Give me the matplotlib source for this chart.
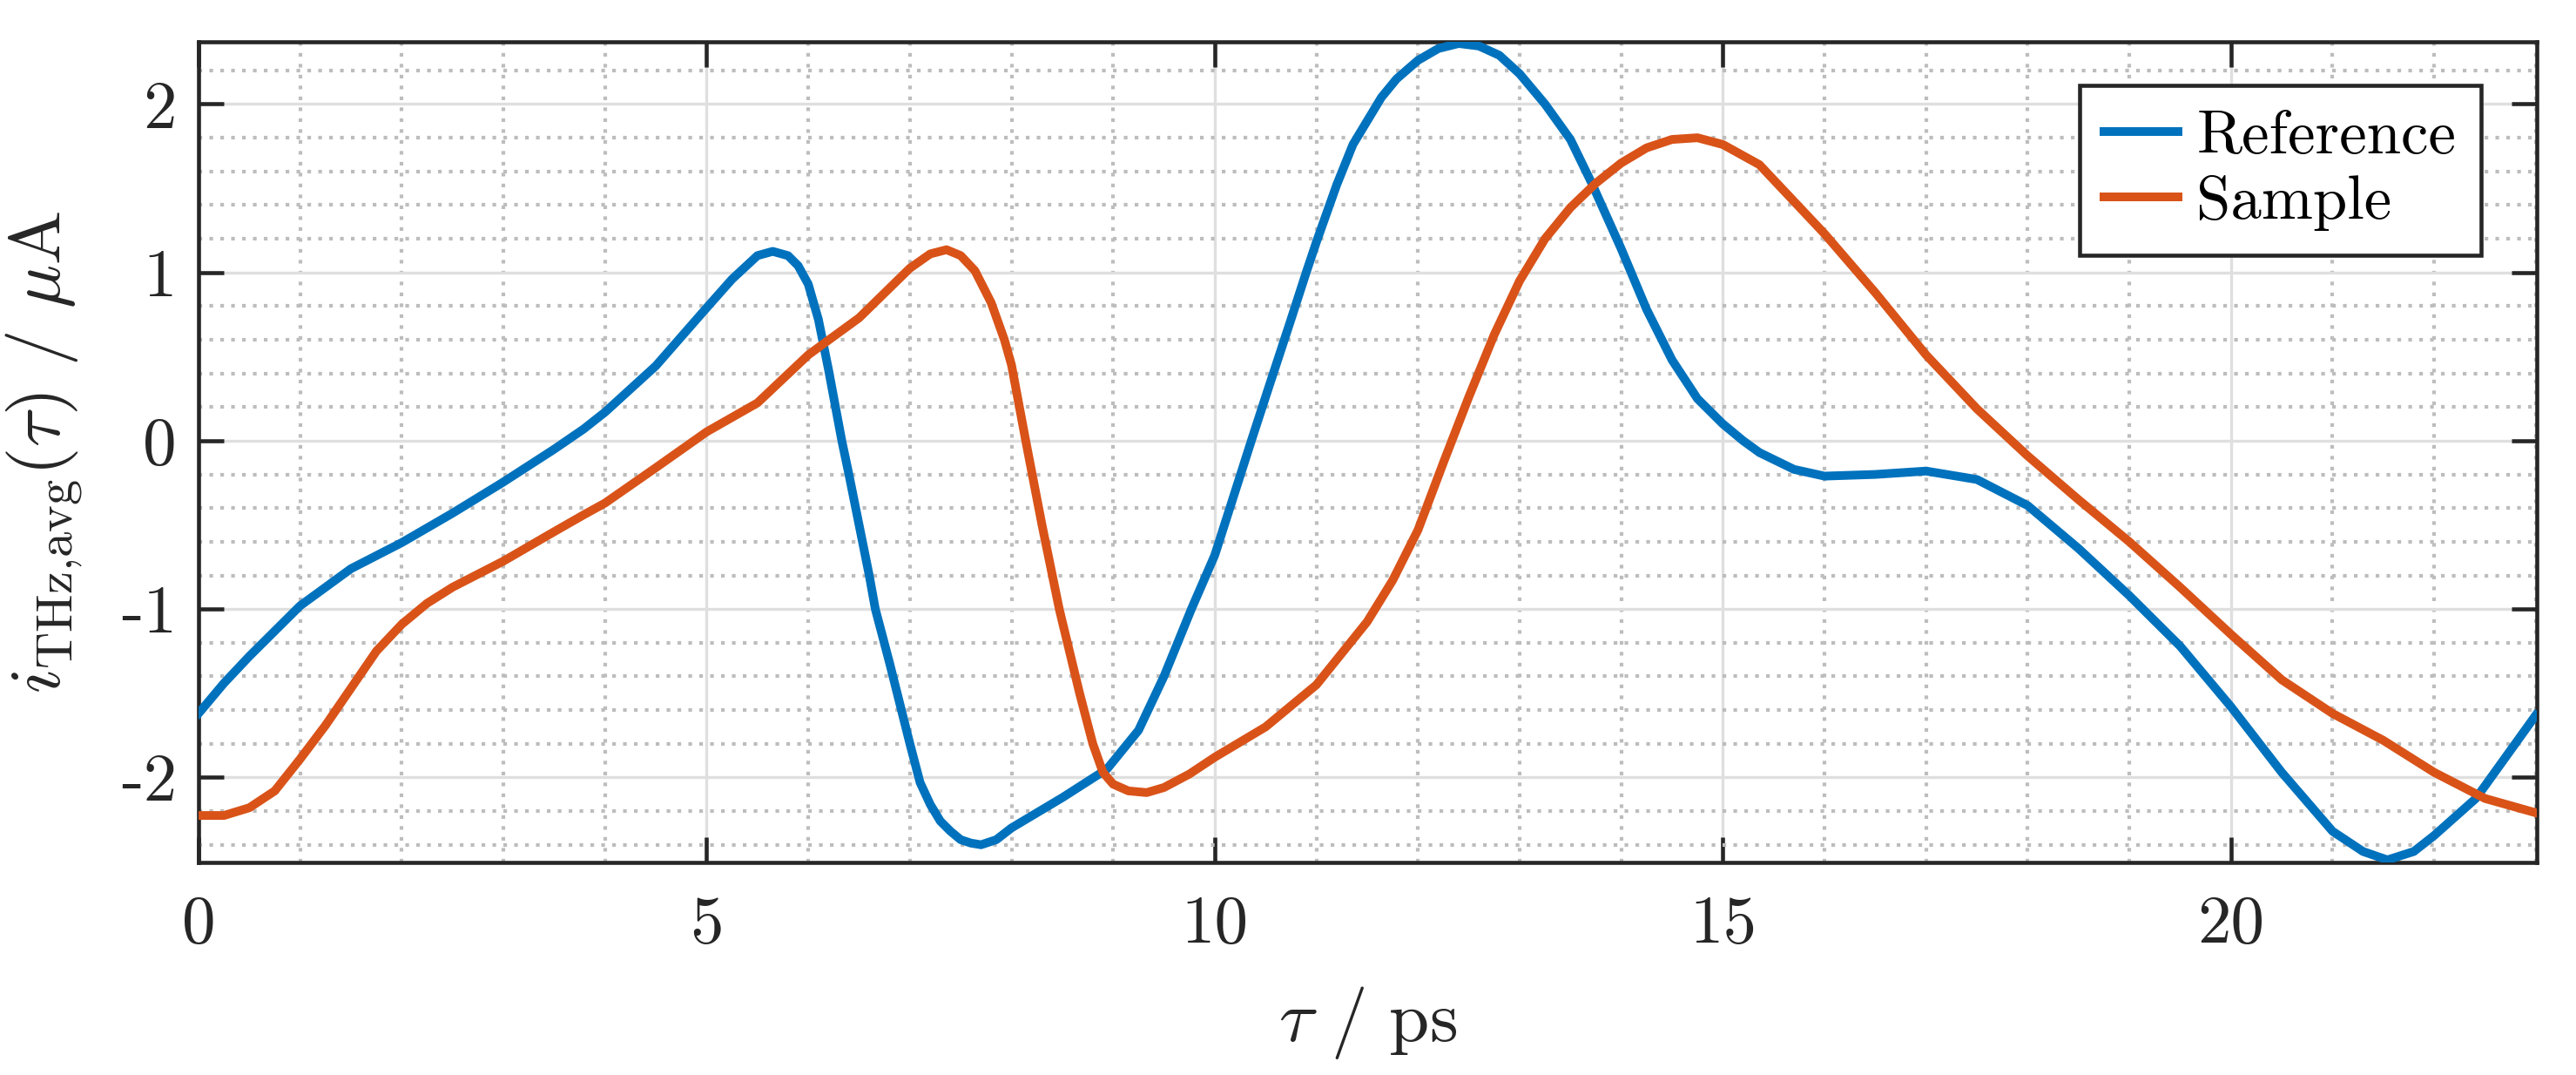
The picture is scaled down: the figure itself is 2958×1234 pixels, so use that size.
import matplotlib
matplotlib.use("Agg")
import matplotlib.pyplot as plt
from matplotlib.ticker import MultipleLocator, FixedLocator, FixedFormatter

plt.rcParams['font.family'] = ['cmr10', 'DejaVu Serif']
plt.rcParams['mathtext.fontset'] = 'cm'
plt.rcParams['axes.unicode_minus'] = False
plt.rcParams['axes.formatter.use_mathtext'] = True

# ---------------- data ----------------
t_ref = [0, 0.25, 0.5, 1, 1.5, 2, 2.5, 3, 3.5, 3.79, 4, 4.5, 5, 5.25, 5.5, 5.65,
         5.8, 5.9, 6.0, 6.1, 6.16, 6.2, 6.33, 6.4, 6.5, 6.6, 6.66, 6.8, 6.9, 7.0,
         7.1, 7.2, 7.3, 7.4, 7.5, 7.6, 7.7, 7.85, 8.0, 8.5, 8.94, 9.25, 9.5, 9.77,
         10.0, 10.36, 10.5, 10.75, 10.9, 11.0, 11.2, 11.36, 11.5, 11.64, 11.79,
         12.0, 12.2, 12.4, 12.6, 12.8, 13.0, 13.25, 13.5, 13.71, 14.0, 14.25,
         14.5, 14.75, 15.0, 15.2, 15.36, 15.7, 16.0, 16.5, 17.0, 17.5, 18.0, 18.5,
         19.0, 19.5, 20.0, 20.5, 21.0, 21.3, 21.54, 21.8, 22.0, 22.41, 22.5, 23.0]
i_ref = [-1.62, -1.44, -1.28, -0.98, -0.76, -0.605, -0.43, -0.245, -0.05, 0.07,
         0.17, 0.445, 0.79, 0.96, 1.10, 1.125, 1.10, 1.04, 0.93, 0.72, 0.54, 0.42,
         0.0, -0.2, -0.5, -0.8, -1.0, -1.32, -1.56, -1.80, -2.03, -2.16, -2.26,
         -2.32, -2.37, -2.39, -2.40, -2.37, -2.30, -2.12, -1.95, -1.72, -1.40, -1.0,
         -0.68, 0.0, 0.26, 0.72, 1.0, 1.18, 1.52, 1.76, 1.90, 2.04, 2.15, 2.26,
         2.33, 2.36, 2.345, 2.29, 2.18, 2.0, 1.79, 1.53, 1.14, 0.78, 0.48, 0.25,
         0.10, 0.0, -0.07, -0.17, -0.21, -0.20, -0.18, -0.23, -0.385, -0.64, -0.92,
         -1.22, -1.58, -1.97, -2.32, -2.44, -2.49, -2.44, -2.345, -2.125, -2.05,
         -1.63]

t_smp = [0, 0.25, 0.5, 0.75, 1, 1.25, 1.5, 1.75, 2, 2.25, 2.5, 3, 3.5, 3.79, 4,
         4.5, 5, 5.5, 6, 6.5, 7.0, 7.2, 7.36, 7.5, 7.64, 7.8, 7.93, 8.0, 8.14, 8.3,
         8.47, 8.67, 8.8, 8.9, 9.0, 9.15, 9.33, 9.5, 9.75, 10.0, 10.5, 11.0, 11.5,
         11.75, 12.0, 12.25, 12.5, 12.75, 13.0, 13.25, 13.5, 13.75, 14.0, 14.25,
         14.5, 14.75, 15.0, 15.36, 16.0, 16.5, 17.0, 17.5, 18.0, 18.5, 19.0, 19.5,
         20.0, 20.5, 21.0, 21.5, 22.0, 22.5, 23.0]
i_smp = [-2.226, -2.226, -2.18, -2.08, -1.89, -1.69, -1.47, -1.25, -1.09, -0.965,
         -0.87, -0.715, -0.54, -0.44, -0.37, -0.16, 0.053, 0.225, 0.51, 0.73, 1.025,
         1.11, 1.135, 1.10, 1.01, 0.82, 0.60, 0.45, 0.0, -0.5, -1.0, -1.5, -1.8,
         -1.97, -2.04, -2.08, -2.09, -2.06, -1.98, -1.88, -1.70, -1.45, -1.075,
         -0.83, -0.53, -0.13, 0.26, 0.63, 0.95, 1.2, 1.385, 1.53, 1.65, 1.74, 1.79,
         1.80, 1.76, 1.64, 1.23, 0.88, 0.51, 0.19, -0.09, -0.35, -0.60, -0.87,
         -1.15, -1.42, -1.62, -1.78, -1.97, -2.125, -2.21]

series_labels = ['Reference', 'Sample']
x_ticks = [0, 5, 10, 15, 20]
x_ticklabels = ['0', '5', '10', '15', '20']
y_ticks = [-2, -1, 0, 1, 2]
y_ticklabels = ['-2', '-1', '0', '1', '2']

# ---------------- figure ----------------
AX = '#262626'
fig = plt.figure(figsize=(2958 / 300, 1234 / 300), dpi=300)
ax = fig.add_axes([228 / 2958, 1 - 990 / 1234, (2913 - 228) / 2958, (990 - 48) / 1234])

ax.plot(t_ref, i_ref, color='#0072BD', lw=2.4, label=series_labels[0], zorder=3,
        solid_joinstyle='round')
ax.plot(t_smp, i_smp, color='#D95319', lw=2.4, label=series_labels[1], zorder=3,
        solid_joinstyle='round')

ax.set_xlim(0, 23.01)
ax.set_ylim(-2.505, 2.37)

ax.xaxis.set_major_locator(FixedLocator(x_ticks))
ax.xaxis.set_major_formatter(FixedFormatter(x_ticklabels))
ax.yaxis.set_major_locator(FixedLocator(y_ticks))
ax.yaxis.set_major_formatter(FixedFormatter(y_ticklabels))
ax.xaxis.set_minor_locator(MultipleLocator(1))
ax.yaxis.set_minor_locator(MultipleLocator(0.2))

ax.grid(which='major', color='#dfdfdf', lw=0.8, ls='-', zorder=0)
ax.grid(which='minor', color='#bdbdbd', lw=1.0, ls=(0, (1.0, 2.0)), zorder=0)
ax.set_axisbelow(True)

for s in ax.spines.values():
    s.set_color(AX)
    s.set_linewidth(1.1)
ax.tick_params(which='major', direction='in', length=7, width=1.1, color=AX,
               top=True, right=True, labelsize=18.5, labelcolor=AX)
ax.tick_params(axis='x', which='major', pad=9)
ax.tick_params(axis='y', which='major', pad=6)
ax.tick_params(which='minor', length=0, top=True, right=True)

ax.set_xlabel(r'$\tau\ /\ \mathrm{ps}$', fontsize=20, color=AX, labelpad=8)
ax.set_ylabel(r'$i_{\mathrm{THz{,}avg}}(\tau)\ /\ \mu\mathrm{A}$', fontsize=20,
              color=AX, labelpad=10)

leg = ax.legend(loc='upper right', bbox_to_anchor=(0.976, 0.947), borderaxespad=0,
                fontsize=17, fancybox=False, framealpha=1, edgecolor=AX,
                handlelength=1.2, handletextpad=0.3, labelspacing=0.15,
                borderpad=0.4)
leg.get_frame().set_linewidth(1.1)

fig.savefig('out.png', dpi=300)
